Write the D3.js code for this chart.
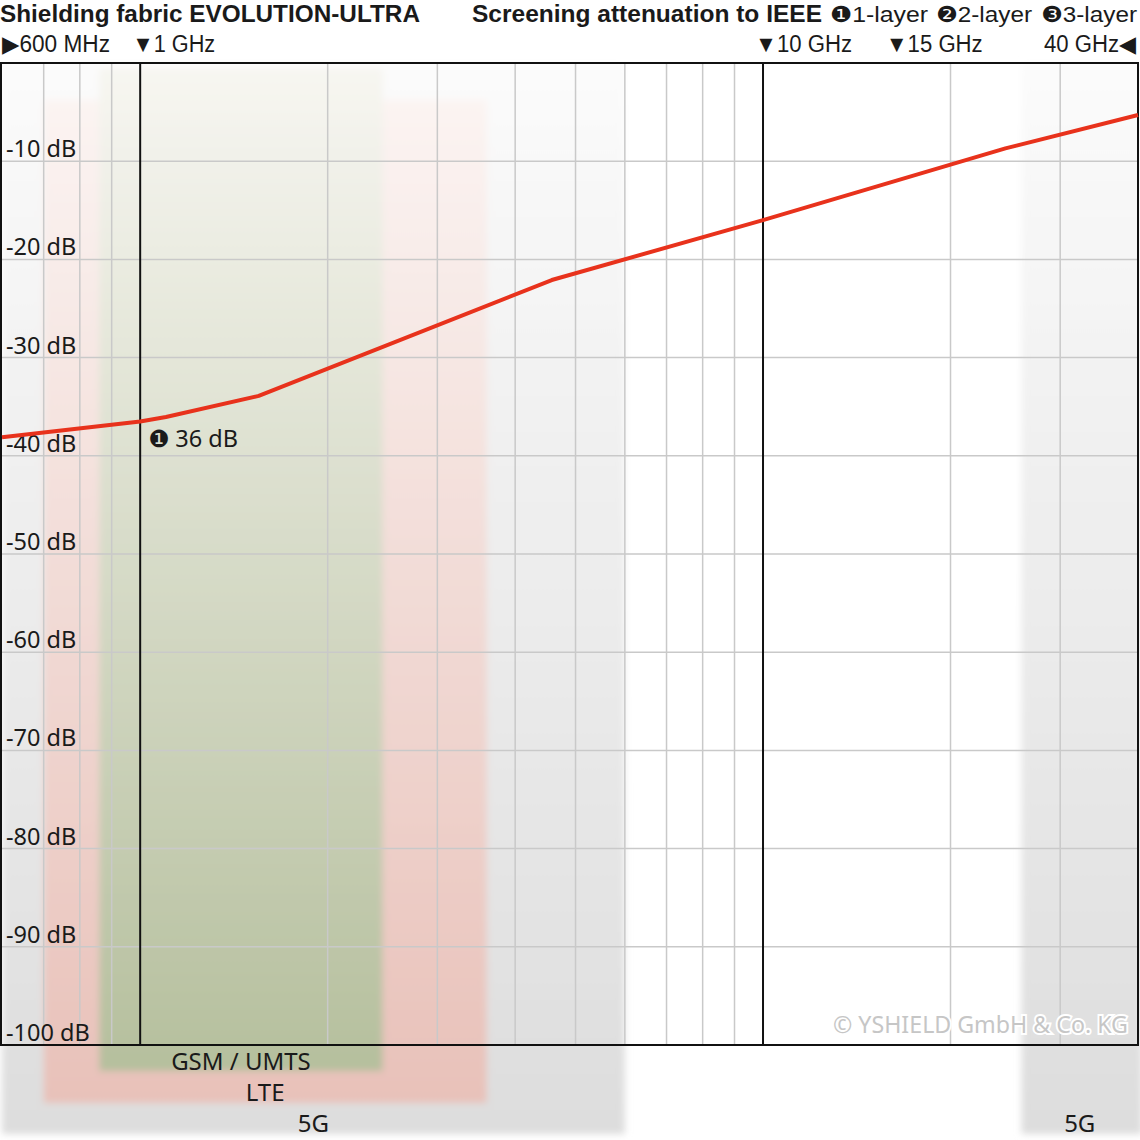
<!DOCTYPE html>
<html><head><meta charset="utf-8">
<script src="https://cdn.jsdelivr.net/npm/d3@7"></script>
<style>
html,body{margin:0;padding:0;background:#fff;}
svg{display:block;}
text{font-family:"Noto Sans","Open Sans","DejaVu Sans",sans-serif;fill:#1a1a1a;}
text.hdr{font-family:"Liberation Sans","DejaVu Sans",sans-serif;}
</style></head>
<body>
<script>
// ---------- DATA ----------
const curveFreqGHz = [0.6, 1, 1.1, 1.55, 4.58, 10, 24.5, 40];
const curveDb      = [-38.1, -36.5, -36.05, -33.9, -22.1, -16.0, -8.7, -5.3];

const yTicks = [-10, -20, -30, -40, -50, -60, -70, -80, -90, -100];
const yTickLabels = ["-10 dB","-20 dB","-30 dB","-40 dB","-50 dB","-60 dB","-70 dB","-80 dB","-90 dB","-100 dB"];

const gridFreqs  = [0.7, 0.8, 0.9, 2, 3, 4, 5, 6, 7, 8, 9, 20, 30];
const majorFreqs = [1, 10];

const headerFreqs  = [0.6, 1, 10, 15, 40];
const headerLabels = ["▶600 MHz", "▼1 GHz", "▼10 GHz", "▼15 GHz", "40 GHz◀"];

const bandNames = ["5G", "LTE", "GSM / UMTS", "5G"];
const bandFrom  = [0.6, 0.7, 0.86, 26];
const bandTo    = [6, 3.6, 2.45, 40];

const titleText = "Shielding fabric EVOLUTION-ULTRA";
const subtitleText = "Screening attenuation to IEEE";
const layerLabels = ["❶1-layer", "❷2-layer", "❸3-layer"];
const annotationText = "❶ 36 dB";
const annotationFreq = 1;
const annotationDb = -36.5;
const copyrightText = "© YSHIELD GmbH & Co. KG";

// ---------- LAYOUT ----------
const W = 1140, H = 1140;
const plot = {left: 2, right: 1138, top: 63, bottom: 1045};

const svg = d3.select("body").append("svg").attr("width", W).attr("height", H);

const x = d3.scaleLog().domain([0.6, 40]).range([plot.left, plot.right]);
const y = d3.scaleLinear().domain([0, -100]).range([plot.top, plot.bottom]);

const defs = svg.append("defs");
defs.append("filter").attr("id","blur")
  .attr("x","-10%").attr("y","-10%").attr("width","120%").attr("height","120%")
  .append("feGaussianBlur").attr("stdDeviation", 3.5);

// band styles
const bandStyle = [
  {top:"#fbfbfb", bottom:"#dddddd", y0:63,  y1:1134},
  {top:"#fbf4f2", bottom:"#e8c1b9", y0:100, y1:1103},
  {top:"#f7f6f1", bottom:"#b5bf9d", y0:68,  y1:1071},
  {top:"#fbfbfb", bottom:"#dddddd", y0:63,  y1:1134}
];
bandStyle.forEach((s,i)=>{
  const g = defs.append("linearGradient").attr("id","bg"+i)
    .attr("x1",0).attr("y1",0).attr("x2",0).attr("y2",1);
  g.append("stop").attr("offset","0%").attr("stop-color", s.top);
  g.append("stop").attr("offset","100%").attr("stop-color", s.bottom);
});

const bandsG = svg.append("g").attr("filter","url(#blur)");
bandNames.forEach((n,i)=>{
  const s = bandStyle[i];
  bandsG.append("rect")
    .attr("x", x(bandFrom[i])).attr("y", s.y0)
    .attr("width", x(bandTo[i]) - x(bandFrom[i]) + (i===3?4:0))
    .attr("height", s.y1 - s.y0)
    .attr("fill", `url(#bg${i})`);
});

// band labels
const bandLabelY = [1132, 1101, 1070, 1132];
bandNames.forEach((n,i)=>{
  const cx = (x(bandFrom[i]) + x(bandTo[i]))/2;
  svg.append("text").attr("x", cx).attr("y", bandLabelY[i])
    .attr("text-anchor","middle").attr("font-size",24).text(n);
});

// grid
const grid = svg.append("g");
grid.selectAll("line.v").data(gridFreqs).join("line")
  .attr("x1", d=>x(d)).attr("x2", d=>x(d))
  .attr("y1", plot.top).attr("y2", plot.bottom)
  .attr("stroke","#c9c9c9").attr("stroke-width",1.5);
grid.selectAll("line.h").data(yTicks.slice(0,-1)).join("line")
  .attr("x1", plot.left).attr("x2", plot.right)
  .attr("y1", d=>y(d)).attr("y2", d=>y(d))
  .attr("stroke","#c9c9c9").attr("stroke-width",1.5);

// major lines
svg.append("g").selectAll("line").data(majorFreqs).join("line")
  .attr("x1", d=>x(d)).attr("x2", d=>x(d))
  .attr("y1", plot.top).attr("y2", plot.bottom)
  .attr("stroke","#111").attr("stroke-width",2);

// border
svg.append("rect").attr("x", plot.left-1).attr("y", plot.top)
  .attr("width", plot.right - plot.left + 1).attr("height", plot.bottom - plot.top)
  .attr("fill","none").attr("stroke","#111").attr("stroke-width",2);

// y labels
svg.append("g").selectAll("text").data(yTicks).join("text")
  .attr("x", 6).attr("y", d=>y(d) - 4)
  .attr("font-size",23.5)
  .text((d,i)=>yTickLabels[i]);

// copyright
svg.append("text").attr("x", 833).attr("y", 1033)
  .attr("font-size",24).attr("textLength",295).attr("lengthAdjust","spacingAndGlyphs")
  .style("fill","#c6c6c6").attr("stroke","#fff").attr("stroke-width",4)
  .attr("paint-order","stroke").text(copyrightText);

// curve
const pts = curveFreqGHz.map((f,i)=>[f, curveDb[i]]);
svg.append("path").datum(pts)
  .attr("d", d3.line().x(d=>x(d[0])).y(d=>y(d[1])))
  .attr("fill","none").attr("stroke","#e8321c").attr("stroke-width",4)
  .attr("stroke-linejoin","round");

// annotation
svg.append("text").attr("x", x(annotationFreq)+8).attr("y", y(annotationDb)+26)
  .attr("font-size",23.5).text(annotationText);

// header
const hdrY = 22;
svg.append("text").attr("class","hdr").attr("x",0).attr("y",hdrY).attr("font-weight","bold")
  .attr("font-size",23).attr("textLength",420).attr("lengthAdjust","spacingAndGlyphs")
  .text(titleText);
svg.append("text").attr("class","hdr").attr("x",472).attr("y",hdrY).attr("font-weight","bold")
  .attr("font-size",23).attr("textLength",350).attr("lengthAdjust","spacingAndGlyphs")
  .text(subtitleText);
const layerX = [830, 936, 1041], layerW = [98, 96, 96];
layerLabels.forEach((t,i)=>{
  svg.append("text").attr("class","hdr").attr("x",layerX[i]).attr("y",hdrY).attr("font-size",22)
    .attr("textLength",layerW[i]).attr("lengthAdjust","spacingAndGlyphs").text(t);
});

// frequency markers row
const hdrOffset = [0, -8, -8, 13, -2];
const hdrWidth  = [108, 83, 97, 97, 92];
headerFreqs.forEach((f,i)=>{
  const isEnd = i === headerFreqs.length-1;
  const xs = isEnd ? x(f) + hdrOffset[i] - hdrWidth[i] : x(f) + hdrOffset[i];
  svg.append("text").attr("class","hdr").attr("x", xs).attr("y", 52).attr("font-size",23)
    .attr("textLength",hdrWidth[i]).attr("lengthAdjust","spacingAndGlyphs")
    .text(headerLabels[i]);
});
</script>
</body></html>
